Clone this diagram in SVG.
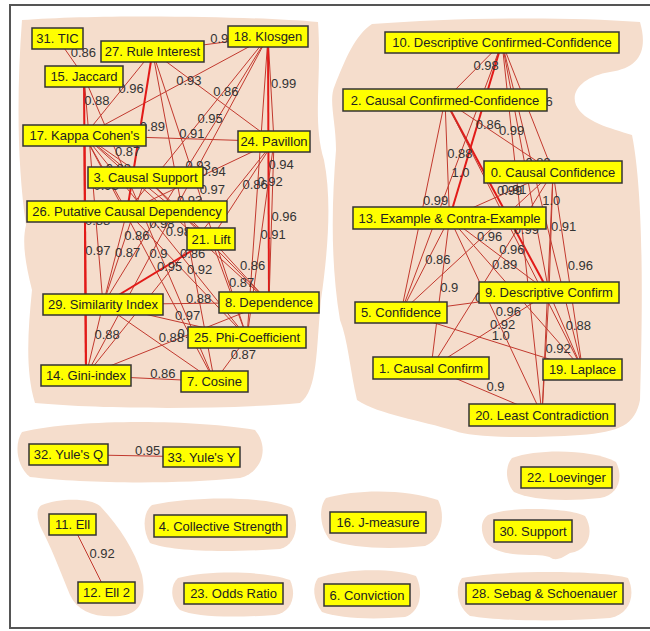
<svg xmlns="http://www.w3.org/2000/svg" width="650" height="631" viewBox="0 0 650 631">
<style>
.blob{fill:#f5ddcc}
.e line{stroke:#c2392e;stroke-width:1;fill:none}
.e line.t{stroke:#e21a18;stroke-width:2}
.lbl text{font-family:"Liberation Sans",Arial,sans-serif;font-size:13px;fill:#333}
.node rect{fill:#ffff00;stroke:#333;stroke-width:1.5}
.node text{font-family:"Liberation Sans",Arial,sans-serif;font-size:13px;fill:#222;text-anchor:middle}
</style>
<rect x="0" y="0" width="650" height="631" fill="#ffffff"/>
<rect x="10" y="5" width="646" height="623" fill="none" stroke="#555" stroke-width="2"/>
<g id="blobs">
<path class="blob" d="M22,20 C100,14 250,16 318,22 C322,80 312,120 324,160 C332,200 328,250 321,300 C316,350 318,390 300,403 C220,410 100,409 35,403 C25,370 28,330 32,290 C25,262 22,242 26,225 C18,170 16,100 22,20 Z"/>
<path class="blob" d="M372,24 C450,18 560,16 640,22 C648,50 640,68 610,72 C585,76 570,90 576,105 C584,122 610,128 632,135 C645,200 642,330 640,400 C635,425 620,432 580,435 C520,439 470,437 455,431 C420,420 380,415 357,400 C350,370 348,340 340,320 C330,260 332,200 336,150 C336,120 328,100 335,85 C345,60 355,35 372,24 Z"/>
<path class="blob" d="M22,432 C80,418 200,420 255,430 C270,448 262,472 240,478 C170,485 80,483 30,477 C15,465 15,442 22,432 Z"/>
<path class="blob" d="M42,505 C60,498 90,498 100,506 C118,525 135,550 142,575 C147,600 140,614 120,616 C95,618 78,612 70,595 C60,570 50,545 42,530 C36,518 36,508 42,505 Z"/>
<path class="blob" d="M152,505 C200,495 270,497 292,508 C300,525 296,545 280,549 C220,553 170,551 150,543 C142,530 143,512 152,505 Z"/>
<path class="blob" d="M178,578 C210,570 265,571 290,580 C297,595 292,612 275,615 C230,618 195,617 180,610 C170,600 170,585 178,578 Z"/>
<path class="blob" d="M326,498 C360,488 410,490 438,500 C446,515 442,540 425,546 C390,550 350,548 330,540 C320,528 318,508 326,498 Z"/>
<path class="blob" d="M318,578 C345,568 395,568 416,576 C424,592 420,612 405,617 C370,620 338,618 322,612 C313,600 312,586 318,578 Z"/>
<path class="blob" d="M512,458 C540,448 595,450 616,462 C624,478 618,495 600,498 C565,502 530,500 514,492 C505,482 505,466 512,458 Z"/>
<path class="blob" d="M488,515 C510,506 570,508 585,516 C594,530 590,550 570,553 C565,556 560,560 553,559 C548,556 545,555 530,555 C505,555 490,550 485,540 C480,530 481,520 488,515 Z"/>
<path class="blob" d="M462,578 C500,570 600,570 628,578 C636,595 630,614 610,618 C560,622 500,621 470,616 C456,606 455,586 462,578 Z"/>
</g>
<g id="connectors" class="e">
<line x1="57.5" y1="38.5" x2="84" y2="76.5"/>
<line x1="152.5" y1="51.5" x2="268" y2="36.5"/>
<line x1="152.5" y1="51.5" x2="84.5" y2="135.5"/>
<line x1="84" y1="76.5" x2="84.5" y2="135.5"/>
<line x1="268" y1="36.5" x2="84.5" y2="135.5"/>
<line x1="152.5" y1="51.5" x2="274" y2="141.5"/>
<line x1="268" y1="36.5" x2="274" y2="141.5"/>
<line x1="268" y1="36.5" x2="127" y2="211.5"/>
<line class="t" x1="152.5" y1="51.5" x2="127" y2="211.5"/>
<line x1="84.5" y1="135.5" x2="274" y2="141.5"/>
<line x1="84.5" y1="135.5" x2="145.5" y2="177.5"/>
<line x1="268" y1="36.5" x2="103" y2="304.5"/>
<line x1="274" y1="141.5" x2="127" y2="211.5"/>
<line x1="152.5" y1="51.5" x2="247" y2="337.5"/>
<line x1="274" y1="141.5" x2="211" y2="239"/>
<line x1="268" y1="36.5" x2="247" y2="337.5"/>
<line class="t" x1="268" y1="36.5" x2="269" y2="302.5"/>
<line x1="274" y1="141.5" x2="269" y2="302.5"/>
<line x1="274" y1="141.5" x2="247" y2="337.5"/>
<line x1="211" y1="239" x2="269" y2="302.5"/>
<line x1="211" y1="239" x2="247" y2="337.5"/>
<line x1="268" y1="36.5" x2="86" y2="375.5"/>
<line x1="84" y1="76.5" x2="214.5" y2="381.5"/>
<line x1="84.5" y1="135.5" x2="247" y2="337.5"/>
<line x1="145.5" y1="177.5" x2="103" y2="304.5"/>
<line class="t" x1="84.5" y1="135.5" x2="86" y2="375.5"/>
<line class="t" x1="84" y1="76.5" x2="86" y2="375.5"/>
<line x1="127" y1="211.5" x2="103" y2="304.5"/>
<line x1="84.5" y1="135.5" x2="214.5" y2="381.5"/>
<line x1="274" y1="141.5" x2="86" y2="375.5"/>
<line class="t" x1="211" y1="239" x2="103" y2="304.5"/>
<line x1="127" y1="211.5" x2="247" y2="337.5"/>
<line x1="103" y1="304.5" x2="269" y2="302.5"/>
<line x1="103" y1="304.5" x2="247" y2="337.5"/>
<line x1="86" y1="375.5" x2="269" y2="302.5"/>
<line x1="103" y1="304.5" x2="86" y2="375.5"/>
<line x1="103" y1="304.5" x2="214.5" y2="381.5"/>
<line x1="247" y1="337.5" x2="214.5" y2="381.5"/>
<line x1="86" y1="375.5" x2="214.5" y2="381.5"/>
<line x1="84.5" y1="135.5" x2="127" y2="211.5"/>
<line x1="84" y1="76.5" x2="103" y2="304.5"/>
<line x1="152.5" y1="51.5" x2="214.5" y2="381.5"/>
<line x1="84.5" y1="135.5" x2="211" y2="239"/>
<line x1="145.5" y1="177.5" x2="269" y2="302.5"/>
<line x1="145.5" y1="177.5" x2="211" y2="239"/>
<line x1="84.5" y1="135.5" x2="269" y2="302.5"/>
<line x1="502" y1="42.5" x2="445" y2="100"/>
<line x1="502" y1="42.5" x2="553" y2="172"/>
<line class="t" x1="502" y1="42.5" x2="449.5" y2="218"/>
<line x1="445" y1="100" x2="553" y2="172"/>
<line x1="445" y1="100" x2="449.5" y2="218"/>
<line x1="502" y1="42.5" x2="401" y2="312.5"/>
<line x1="502" y1="42.5" x2="549" y2="292.5"/>
<line class="t" x1="445" y1="100" x2="549" y2="292.5"/>
<line x1="553" y1="172" x2="449.5" y2="218"/>
<line x1="502" y1="42.5" x2="582.5" y2="369.5"/>
<line x1="445" y1="100" x2="401" y2="312.5"/>
<line x1="553" y1="172" x2="549" y2="292.5"/>
<line x1="445" y1="100" x2="582.5" y2="369.5"/>
<line x1="553" y1="172" x2="401" y2="312.5"/>
<line x1="449.5" y1="218" x2="549" y2="292.5"/>
<line x1="449.5" y1="218" x2="401" y2="312.5"/>
<line x1="553" y1="172" x2="431" y2="368"/>
<line x1="553" y1="172" x2="582.5" y2="369.5"/>
<line x1="449.5" y1="218" x2="431" y2="368"/>
<line x1="401" y1="312.5" x2="549" y2="292.5"/>
<line x1="449.5" y1="218" x2="542" y2="415"/>
<line x1="431" y1="368" x2="549" y2="292.5"/>
<line x1="401" y1="312.5" x2="582.5" y2="369.5"/>
<line x1="549" y1="292.5" x2="582.5" y2="369.5"/>
<line x1="549" y1="292.5" x2="542" y2="415"/>
<line x1="431" y1="368" x2="542" y2="415"/>
<line x1="502" y1="42.5" x2="542" y2="415"/>
<line x1="553" y1="172" x2="542" y2="415"/>
<line x1="449.5" y1="218" x2="582.5" y2="369.5"/>
<line x1="68.5" y1="454.5" x2="201.5" y2="457"/>
<line x1="72.5" y1="524.5" x2="106.5" y2="592.5"/>
</g>
<g id="labels" class="lbl">
<text x="70.75" y="56.5">0.86</text>
<text x="210.25" y="43">0.98</text>
<text x="118.5" y="92.5">0.96</text>
<text x="84.25" y="105">0.88</text>
<text x="176.25" y="85">0.93</text>
<text x="213.25" y="95.5">0.86</text>
<text x="271" y="88">0.99</text>
<text x="197.5" y="123">0.95</text>
<text x="139.75" y="130.5">0.89</text>
<text x="179.25" y="137.5">0.91</text>
<text x="115" y="155.5">0.87</text>
<text x="185.5" y="169.5">0.93</text>
<text x="200.5" y="175.5">0.94</text>
<text x="199.75" y="193.5">0.97</text>
<text x="242.5" y="189.25">0.86</text>
<text x="257.5" y="186">0.92</text>
<text x="268.5" y="168.5">0.94</text>
<text x="271.5" y="221">0.96</text>
<text x="260.5" y="238.5">0.91</text>
<text x="240" y="269.75">0.86</text>
<text x="229" y="287.25">0.87</text>
<text x="177" y="205">0.93</text>
<text x="149.25" y="228">0.98</text>
<text x="165.75" y="235.5">0.98</text>
<text x="124.25" y="240">0.86</text>
<text x="85.25" y="254.5">0.97</text>
<text x="85" y="225">0.88</text>
<text x="115" y="257">0.87</text>
<text x="149.5" y="257.5">0.9</text>
<text x="180" y="257.5">0.86</text>
<text x="157" y="270.75">0.95</text>
<text x="187" y="273.5">0.92</text>
<text x="186" y="302.5">0.88</text>
<text x="175" y="320">0.97</text>
<text x="177.5" y="338">0.91</text>
<text x="94.5" y="339">0.88</text>
<text x="158.75" y="342">0.88</text>
<text x="230.75" y="358.5">0.87</text>
<text x="150.25" y="377.5">0.86</text>
<text x="105.75" y="172.5">0.88</text>
<text x="93.5" y="189.5">0.93</text>
<text x="473.5" y="70.25">0.98</text>
<text x="527.5" y="106.25">0.96</text>
<text x="475.75" y="129.25">0.86</text>
<text x="499" y="135">0.99</text>
<text x="447.25" y="158">0.88</text>
<text x="451.5" y="176.5">1.0</text>
<text x="525.5" y="166.5">0.89</text>
<text x="497" y="195.25">0.99</text>
<text x="501.25" y="194">0.91</text>
<text x="542.25" y="205">1.0</text>
<text x="423" y="205.25">0.99</text>
<text x="551" y="231.25">0.91</text>
<text x="513.75" y="233.75">0.99</text>
<text x="477" y="241.25">0.96</text>
<text x="499.25" y="254.25">0.96</text>
<text x="425.25" y="264.25">0.86</text>
<text x="492" y="269">0.89</text>
<text x="567.75" y="269.75">0.96</text>
<text x="440.25" y="292">0.9</text>
<text x="475" y="301.5">0.93</text>
<text x="495.75" y="315.5">0.96</text>
<text x="490" y="329.25">0.92</text>
<text x="491.75" y="340">1.0</text>
<text x="565.75" y="330">0.88</text>
<text x="545.5" y="352.75">0.92</text>
<text x="486.5" y="390.5">0.9</text>
<text x="135" y="454.5">0.95</text>
<text x="89.5" y="557.5">0.92</text>
</g>
<g id="n31" class="node"><rect x="32" y="28" width="51" height="21"/><text x="57.5" y="43">31. TIC</text></g>
<g id="n27" class="node"><rect x="101" y="41" width="103" height="21"/><text x="152.5" y="56">27. Rule Interest</text></g>
<g id="n18" class="node"><rect x="228" y="26" width="80" height="21"/><text x="268" y="41">18. Klosgen</text></g>
<g id="n15" class="node"><rect x="45" y="66" width="78" height="21"/><text x="84" y="81">15. Jaccard</text></g>
<g id="n17" class="node"><rect x="23" y="125" width="123" height="21"/><text x="84.5" y="140">17. Kappa Cohen's</text></g>
<g id="n24" class="node"><rect x="238" y="131" width="72" height="21"/><text x="274" y="146">24. Pavillon</text></g>
<g id="n3" class="node"><rect x="88" y="167" width="115" height="21"/><text x="145.5" y="182">3. Causal Support</text></g>
<g id="n26" class="node"><rect x="27" y="201" width="200" height="21"/><text x="127" y="216">26. Putative Causal Dependency</text></g>
<g id="n21" class="node"><rect x="187" y="228" width="48" height="22"/><text x="211" y="243.5">21. Lift</text></g>
<g id="n29" class="node"><rect x="43" y="294" width="120" height="21"/><text x="103" y="309">29. Similarity Index</text></g>
<g id="n8" class="node"><rect x="219" y="292" width="100" height="21"/><text x="269" y="307">8. Dependence</text></g>
<g id="n25" class="node"><rect x="188" y="327" width="118" height="21"/><text x="247" y="342">25. Phi-Coefficient</text></g>
<g id="n14" class="node"><rect x="41" y="365" width="90" height="21"/><text x="86" y="380">14. Gini-index</text></g>
<g id="n7" class="node"><rect x="181" y="371" width="67" height="21"/><text x="214.5" y="386">7. Cosine</text></g>
<g id="n10" class="node"><rect x="385" y="32" width="234" height="21"/><text x="502" y="47">10. Descriptive Confirmed-Confidence</text></g>
<g id="n2" class="node"><rect x="343" y="89" width="204" height="22"/><text x="445" y="104.5">2. Causal Confirmed-Confidence</text></g>
<g id="n0" class="node"><rect x="484" y="161" width="138" height="22"/><text x="553" y="176.5">0. Causal Confidence</text></g>
<g id="n13" class="node"><rect x="353" y="207" width="193" height="22"/><text x="449.5" y="222.5">13. Example &amp; Contra-Example</text></g>
<g id="n9" class="node"><rect x="479" y="282" width="140" height="21"/><text x="549" y="297">9. Descriptive Confirm</text></g>
<g id="n5" class="node"><rect x="355" y="302" width="92" height="21"/><text x="401" y="317">5. Confidence</text></g>
<g id="n1" class="node"><rect x="373" y="357" width="116" height="22"/><text x="431" y="372.5">1. Causal Confirm</text></g>
<g id="n19" class="node"><rect x="543" y="359" width="79" height="21"/><text x="582.5" y="374">19. Laplace</text></g>
<g id="n20" class="node"><rect x="469" y="404" width="146" height="22"/><text x="542" y="419.5">20. Least Contradiction</text></g>
<g id="n32" class="node"><rect x="29" y="444" width="79" height="21"/><text x="68.5" y="459">32. Yule's Q</text></g>
<g id="n33" class="node"><rect x="163" y="447" width="77" height="20"/><text x="201.5" y="461.5">33. Yule's Y</text></g>
<g id="n11" class="node"><rect x="49" y="514" width="47" height="21"/><text x="72.5" y="529">11. Ell</text></g>
<g id="n12" class="node"><rect x="78" y="582" width="57" height="21"/><text x="106.5" y="597">12. Ell 2</text></g>
<g id="n4" class="node"><rect x="154" y="515" width="133" height="22"/><text x="220.5" y="530.5">4. Collective Strength</text></g>
<g id="n23" class="node"><rect x="184" y="583" width="99" height="21"/><text x="233.5" y="598">23. Odds Ratio</text></g>
<g id="n16" class="node"><rect x="330" y="512" width="96" height="21"/><text x="378" y="527">16. J-measure</text></g>
<g id="n6" class="node"><rect x="324" y="584" width="86" height="22"/><text x="367" y="599.5">6. Conviction</text></g>
<g id="n22" class="node"><rect x="521" y="467" width="91" height="21"/><text x="566.5" y="482">22. Loevinger</text></g>
<g id="n30" class="node"><rect x="494" y="520" width="78" height="22"/><text x="533" y="535.5">30. Support</text></g>
<g id="n28" class="node"><rect x="466" y="583" width="157" height="21"/><text x="544.5" y="598">28. Sebag &amp; Schoenauer</text></g>
</svg>
